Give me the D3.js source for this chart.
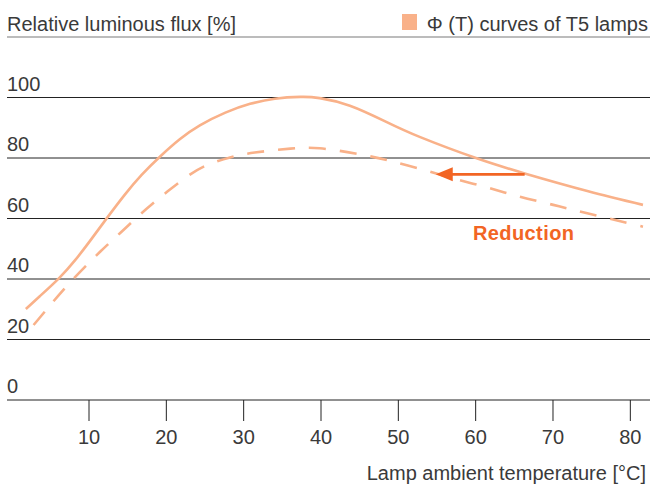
<!DOCTYPE html>
<html>
<head>
<meta charset="utf-8">
<script src="https://cdn.jsdelivr.net/npm/d3@7"></script>
<style>
  html, body { margin: 0; padding: 0; background: #fff; }
  svg { display: block; }
  text { font-family: "Liberation Sans", Arial, Helvetica, sans-serif; }
</style>
</head>
<body>
<svg id="chart" width="650" height="491"></svg>
<script>
// Lamp ambient temperature [°C] and relative luminous flux [%]
const nominalTemp = [1.9, 3.7, 6.2, 8.3, 10.2, 12.4, 14.7, 16.9, 19.3, 21.8, 24.4, 27.7, 30.9, 34.1, 37.4, 39.9, 43.8, 48.3, 52.9, 60.2, 66.4, 74.5, 81.7];
const nominalFlux = [30.1, 34.3, 40.3, 46.3, 52.6, 60.2, 67.9, 74.5, 80.6, 86.2, 90.8, 95, 97.9, 99.6, 100.2, 99.8, 97.3, 92.2, 86.9, 79.9, 74.9, 69.1, 64.5];

const reducedTemp = [2.9, 5.4, 8, 11.5, 14.1, 16.4, 18.2, 20.2, 22.5, 25.1, 28.3, 31.5, 36.1, 39.9, 44.5, 48.6, 52.9, 57.1, 61.5, 65.8, 70.1, 74.5, 81.7];
const reducedFlux = [24.8, 32.4, 39.9, 49, 55.2, 60.7, 64.7, 68.9, 73.4, 77.4, 80.2, 81.8, 83.1, 83.2, 81.5, 79.3, 76.4, 73.3, 70.3, 67.2, 64.5, 61.7, 57.3];

const xTicks = [10, 20, 30, 40, 50, 60, 70, 80];
const yTicks = [0, 20, 40, 60, 80, 100];

// Shift of the curve towards lower temperature at equal flux
const reductionLevel = 74.6;
const reductionFrom = 66.4;
const reductionTo = 54.9;

const curveColor = "#f9b189";
const accent = "#f26524";
const textColor = "#3a3a3a";

const svg = d3.select("#chart");

const x = d3.scaleLinear().domain([0, 80]).range([11.167, 629.833]);
const y = d3.scaleLinear().domain([0, 100]).range([400, 97.5]);

// Header rule
svg.append("line")
  .attr("x1", 7).attr("x2", 650).attr("y1", 37).attr("y2", 37)
  .attr("stroke", "#7a7a7a").attr("stroke-width", 1.2);

svg.append("text")
  .attr("x", 7).attr("y", 30.5)
  .attr("font-size", 20).attr("fill", textColor)
  .text("Relative luminous flux [%]");

// Legend
svg.append("rect")
  .attr("x", 402).attr("y", 14).attr("width", 15).attr("height", 16)
  .attr("fill", curveColor);
svg.append("text")
  .attr("x", 648).attr("y", 30.5)
  .attr("text-anchor", "end")
  .attr("font-size", 20).attr("fill", textColor)
  .text("Φ (T) curves of T5 lamps");

// Horizontal grid with value labels
const grid = svg.append("g");
grid.selectAll("line").data(yTicks).join("line")
  .attr("x1", 7).attr("x2", 650)
  .attr("y1", d => y(d)).attr("y2", d => y(d))
  .attr("stroke", "#222").attr("stroke-width", 1);
grid.selectAll("text").data(yTicks).join("text")
  .attr("x", 7).attr("y", d => y(d) - 7)
  .attr("font-size", 20).attr("fill", textColor)
  .text(d => d);

// Temperature axis
const xAxis = svg.append("g")
  .attr("transform", `translate(0,${y(0)})`)
  .call(d3.axisBottom(x).tickValues(xTicks).tickSize(21).tickPadding(9));
xAxis.select(".domain").remove();
xAxis.selectAll(".tick line").attr("stroke", "#222");
xAxis.selectAll(".tick text")
  .attr("font-size", 20).attr("fill", textColor)
  .attr("font-family", "Liberation Sans, Arial, sans-serif");

svg.append("text")
  .attr("x", 646).attr("y", 480)
  .attr("text-anchor", "end")
  .attr("font-size", 20).attr("fill", textColor)
  .text("Lamp ambient temperature [°C]");

// Flux curves
const line = d3.line()
  .x(d => x(d[0])).y(d => y(d[1]))
  .curve(d3.curveNatural);

svg.append("path")
  .datum(d3.zip(reducedTemp, reducedFlux))
  .attr("d", line)
  .attr("fill", "none")
  .attr("stroke", curveColor)
  .attr("stroke-width", 2.6)
  .attr("stroke-dasharray", "17,14");

svg.append("path")
  .datum(d3.zip(nominalTemp, nominalFlux))
  .attr("d", line)
  .attr("fill", "none")
  .attr("stroke", curveColor)
  .attr("stroke-width", 2.6);

// Reduction arrow
const ay = y(reductionLevel);
const tip = x(reductionTo);
const headLen = 17, headHalf = 7;
svg.append("line")
  .attr("x1", x(reductionFrom)).attr("x2", tip + headLen - 1)
  .attr("y1", ay).attr("y2", ay)
  .attr("stroke", accent).attr("stroke-width", 2.8);
svg.append("path")
  .attr("d", `M${tip},${ay} L${tip + headLen},${ay - headHalf} L${tip + headLen},${ay + headHalf} Z`)
  .attr("fill", accent);

svg.append("text")
  .attr("x", 473).attr("y", 240)
  .attr("font-size", 20).attr("font-weight", "bold")
  .attr("letter-spacing", 0.4)
  .attr("fill", accent)
  .text("Reduction");
</script>
</body>
</html>
